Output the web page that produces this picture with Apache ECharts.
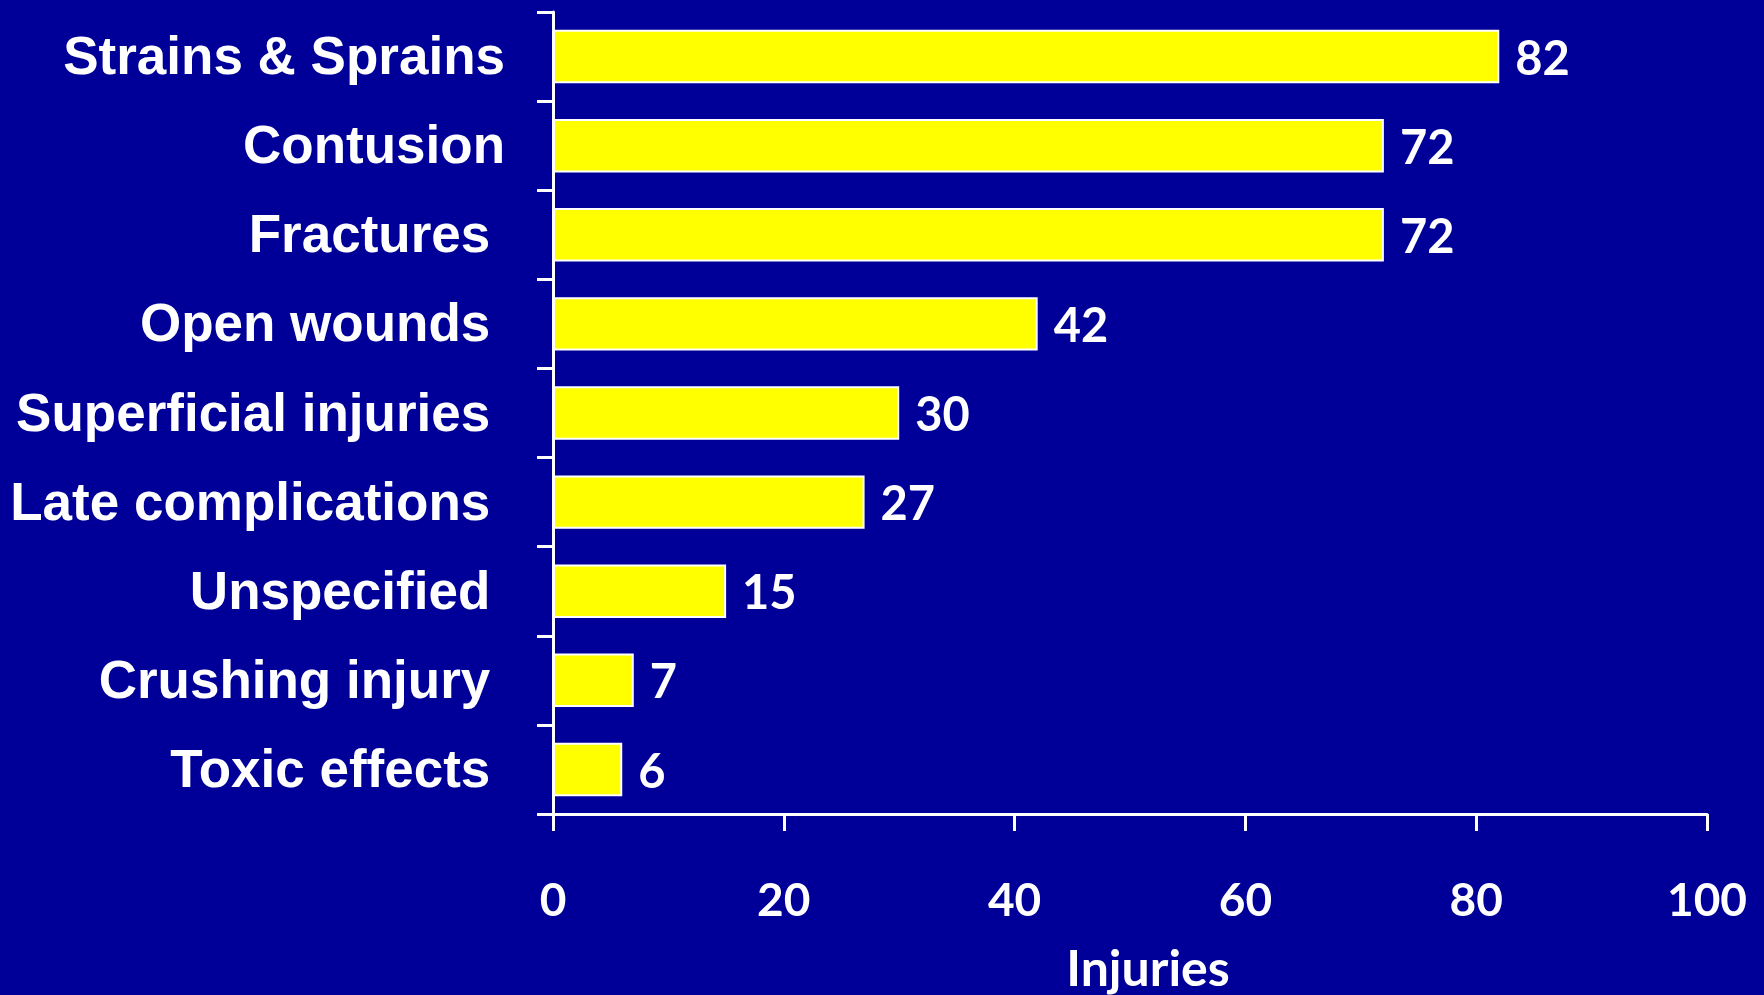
<!DOCTYPE html>
<html>
<head>
<meta charset="utf-8">
<script src="https://cdn.jsdelivr.net/npm/echarts@6/dist/echarts.min.js"></script>
<style>
html,body{margin:0;padding:0;background:#000099;}
#chart{width:1764px;height:995px;}
</style>
</head>
<body>
<div id="chart"></div>
<script>
const categories = ["Strains & Sprains", "Contusion", "Fractures ", "Open wounds ", "Superficial injuries ", "Late complications ", "Unspecified ", "Crushing injury ", "Toxic effects "];
const values = [82, 72, 72, 42, 30, 27, 15, 7, 6];
const xTicks = [0, 20, 40, 60, 80, 100];
const axisName = "Injuries";

const chart = echarts.init(document.getElementById('chart'));
chart.setOption({
  backgroundColor: '#000099',
  animation: false,
  grid: { left: 553, right: 57, top: 12, bottom: 181, containLabel: false, outerBoundsMode: 'none' },
  xAxis: {
    type: 'value',
    min: xTicks[0], max: xTicks[xTicks.length - 1], interval: 20,
    name: axisName, nameLocation: 'middle', nameGap: 131,
    nameTextStyle: { color: '#fff', fontFamily: 'Lato', fontWeight: 'bold', fontSize: 50, padding: [0, 0, 0, 36] },
    axisLine: { show: true, lineStyle: { color: '#fff', width: 3 } },
    axisTick: { show: true, length: 17, lineStyle: { color: '#fff', width: 3 } },
    axisLabel: { color: '#fff', fontFamily: 'Lato', fontWeight: 'bold', fontSize: 46, margin: 64 },
    splitLine: { show: false }
  },
  yAxis: {
    type: 'category', inverse: true, data: categories,
    axisLine: { show: true, lineStyle: { color: '#fff', width: 3 } },
    axisTick: { show: true, length: 16, lineStyle: { color: '#fff', width: 3 } },
    axisLabel: { color: '#fff', fontFamily: 'Liberation Sans', fontWeight: 'bold', fontSize: 53, margin: 48, verticalAlign: 'top', lineHeight: 6 }
  },
  series: [{
    type: 'bar', data: values, barCategoryGap: '40%',
    itemStyle: { color: '#ffff00', borderColor: '#ffffff', borderWidth: 2 },
    label: { show: true, position: 'right', distance: 16, offset: [0, 3], color: '#fff', fontFamily: 'Lato', fontWeight: 'bold', fontSize: 47 }
  }]
});
</script>
</body>
</html>
